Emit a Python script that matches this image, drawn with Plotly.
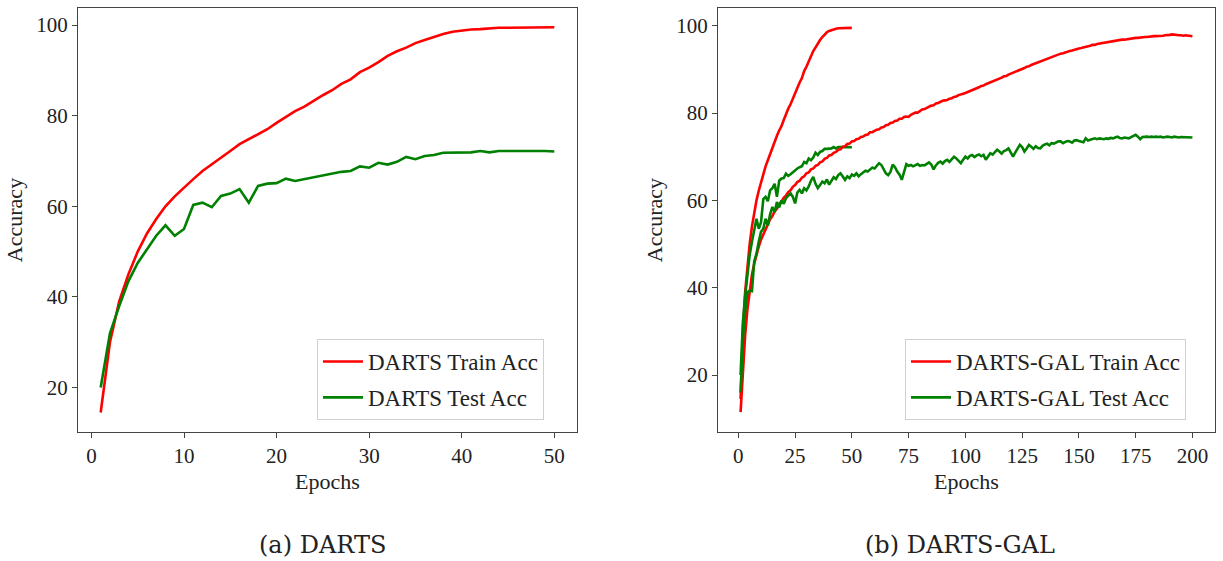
import plotly.graph_objects as go

# ---------------- data ----------------
epochs_darts = list(range(1, 51))
darts_train = [14.5, 30.0, 39.0, 45.0, 50.0, 54.0, 57.2, 60.0, 62.2, 64.2,
               66.0, 67.8, 69.2, 70.7, 72.2, 73.7, 74.8, 76.0, 77.0, 78.4,
               79.8, 81.0, 82.0, 83.3, 84.5, 85.6, 87.0, 88.0, 89.6, 90.6,
               91.8, 93.2, 94.2, 95.0, 96.0, 96.7, 97.4, 98.0, 98.5, 98.8,
               99.0, 99.1, 99.3, 99.4, 99.4, 99.4, 99.5, 99.5, 99.5, 99.5]
darts_test = [20.0, 32.0, 38.0, 43.5, 47.5, 50.5, 53.5, 55.8, 53.5, 55.0,
              60.3, 60.8, 59.8, 62.3, 62.8, 63.8, 60.8, 64.5, 65.0, 65.1,
              66.1, 65.6, 66.0, 66.5, 66.8, 67.3, 67.6, 67.8, 68.8, 68.5,
              69.6, 69.2, 69.8, 70.9, 70.4, 71.1, 71.3, 71.8, 71.8, 71.8,
              71.9, 72.2, 71.9, 72.2, 72.2, 72.2, 72.3, 72.2, 72.2, 72.1]

epochs_gal = list(range(1, 201))
gal_train = [11.5, 21.0, 29.0, 35.0, 39.5, 43.0, 45.5, 47.6, 49.4, 51.0,
             52.2, 53.6, 54.5, 55.7, 56.4, 57.5, 58.1, 59.1, 59.7, 60.6,
             61.1, 61.9, 62.3, 63.1, 63.5, 64.2, 64.5, 65.2, 65.5, 66.2,
             66.4, 67.1, 67.3, 67.9, 68.1, 68.7, 68.9, 69.5, 69.7, 70.3,
             70.4, 70.9, 71.1, 71.6, 71.7, 72.3, 72.4, 72.9, 73.0, 73.5,
             73.6, 74.0, 74.1, 74.5, 74.6, 75.0, 75.1, 75.6, 75.6, 76.0,
             76.2, 76.3, 76.7, 76.8, 77.2, 77.3, 77.7, 77.8, 78.2, 78.3,
             78.7, 78.7, 79.1, 79.2, 79.1, 79.6, 79.8, 80.1, 80.1, 80.5,
             80.8, 80.9, 81.2, 81.4, 81.7, 81.8, 82.2, 82.3, 82.6, 82.8,
             82.9, 83.0, 83.3, 83.4, 83.7, 83.8, 84.1, 84.2, 84.4, 84.6,
             84.8, 85.1, 85.2, 85.5, 85.7, 85.9, 86.2, 86.3, 86.6, 86.8,
             87.0, 87.3, 87.4, 87.7, 87.9, 88.1, 88.4, 88.5, 88.8, 89.0,
             89.2, 89.5, 89.6, 89.9, 90.1, 90.3, 90.6, 90.7, 91.0, 91.2,
             91.4, 91.6, 91.8, 92.1, 92.2, 92.5, 92.6, 92.9, 93.0, 93.2,
             93.4, 93.6, 93.7, 93.9, 94.0, 94.2, 94.3, 94.5, 94.6, 94.8,
             94.9, 95.0, 95.2, 95.3, 95.4, 95.6, 95.6, 95.8, 95.9, 96.0,
             96.1, 96.2, 96.3, 96.4, 96.5, 96.5, 96.6, 96.7, 96.8, 96.8,
             96.9, 97.0, 97.0, 97.1, 97.2, 97.2, 97.3, 97.3, 97.4, 97.4,
             97.5, 97.5, 97.6, 97.6, 97.6, 97.7, 97.7, 97.8, 97.8, 97.9,
             98.0, 97.9, 97.9, 97.8, 97.8, 97.7, 97.8, 97.7, 97.6, 97.6]
gal_test = [16.0, 28.0, 34.5, 39.0, 39.3, 39.2, 46.0, 47.8, 50.5, 52.8,
            53.5, 55.8, 54.2, 56.8, 58.5, 57.3, 59.6, 58.4, 60.0, 59.2,
            60.5, 61.0, 61.6, 60.8, 59.3, 61.8, 62.4, 61.6, 62.8, 62.3,
            63.2, 64.5, 65.4, 63.8, 62.8, 63.5, 64.3, 63.9, 64.8, 63.6,
            64.6, 65.3, 64.9, 65.8, 66.2, 65.4, 64.7, 65.5, 65.1, 65.9,
            65.6, 66.2, 65.5, 66.0, 66.4, 66.8, 66.6, 67.1, 67.5, 67.3,
            67.9, 68.5, 68.1, 67.0, 66.2, 65.8, 66.5, 68.2, 67.6, 66.6,
            65.9, 64.7, 66.8, 68.3, 67.9, 68.1, 67.8, 68.0, 68.3, 67.9,
            68.1, 68.0, 68.4, 68.7, 68.2, 67.1, 68.0, 68.6, 68.9, 68.4,
            69.0, 69.3, 68.8, 69.5, 70.0, 69.6, 69.1, 68.5, 69.3, 70.0,
            69.6, 70.2, 70.4, 69.9, 70.3, 70.5, 70.1, 70.4, 69.3, 70.2,
            70.8, 70.5, 71.0, 71.6, 71.2, 70.7, 71.3, 71.5, 71.9, 71.1,
            70.0, 71.0, 72.0, 72.7, 72.2, 71.2, 71.9, 72.7, 72.3, 71.8,
            72.4, 72.0, 71.9, 72.5, 72.8, 73.0, 72.6, 73.1, 73.0, 73.2,
            73.5, 73.5, 73.1, 73.4, 73.6, 73.5, 73.2, 73.7, 73.8, 73.6,
            73.4, 73.3, 74.2, 73.7, 73.9, 74.1, 74.2, 74.0, 74.2, 74.1,
            74.0, 74.2, 74.1, 74.3, 74.2, 74.4, 74.6, 74.3, 74.2, 74.4,
            74.3, 74.2, 74.5, 74.7, 75.0, 74.6, 74.0, 74.5, 74.6, 74.6,
            74.5, 74.6, 74.5, 74.6, 74.5, 74.6, 74.4, 74.5, 74.6, 74.5,
            74.4, 74.6, 74.5, 74.4, 74.5, 74.5, 74.4, 74.5, 74.4, 74.4]

left_xticks = [0, 10, 20, 30, 40, 50]
right_xticks = [0, 25, 50, 75, 100, 125, 150, 175, 200]
yticks = [20, 40, 60, 80, 100]
captions = ["(a) DARTS", "(b) DARTS-GAL"]

# ---------------- style ----------------
RED = "#ff0000"
GREEN = "#008000"
LW = 2.6
FONT = "Liberation Serif"
W, H = 1223, 561

fig = go.Figure()

# left panel
fig.add_trace(go.Scatter(x=epochs_darts, y=darts_train, mode="lines",
                         line=dict(color=RED, width=LW), name="DARTS Train Acc",
                         xaxis="x", yaxis="y", legend="legend", legendgroup="tr"))
fig.add_trace(go.Scatter(x=epochs_darts, y=darts_test, mode="lines",
                         line=dict(color=GREEN, width=LW), name="DARTS Test Acc",
                         xaxis="x", yaxis="y", legend="legend", legendgroup="te"))

# right panel
fig.add_trace(go.Scatter(x=epochs_darts, y=darts_train, mode="lines",
                         line=dict(color=RED, width=LW), showlegend=False,
                         xaxis="x2", yaxis="y2"))
fig.add_trace(go.Scatter(x=epochs_darts, y=darts_test, mode="lines",
                         line=dict(color=GREEN, width=LW), showlegend=False,
                         xaxis="x2", yaxis="y2"))
fig.add_trace(go.Scatter(x=epochs_gal, y=gal_train, mode="lines",
                         line=dict(color=RED, width=LW), name="DARTS-GAL Train Acc",
                         xaxis="x2", yaxis="y2", legend="legend2", legendgroup="tr2"))
fig.add_trace(go.Scatter(x=epochs_gal, y=gal_test, mode="lines",
                         line=dict(color=GREEN, width=LW), name="DARTS-GAL Test Acc",
                         xaxis="x2", yaxis="y2", legend="legend2", legendgroup="te2"))

ydom = [1 - 432 / H, 1 - 8 / H]
axis_common = dict(showline=True, mirror=True, linecolor="#444", linewidth=1.3,
                   ticks="outside", ticklen=5, tickwidth=1.2, tickcolor="#444",
                   showgrid=False, zeroline=False,
                   tickfont=dict(family=FONT, size=21, color="#222"))
title_font = dict(family=FONT, size=22, color="#222")
legend_font = dict(family=FONT, size=23, color="#222")

fig.update_layout(
    width=W, height=H,
    margin=dict(l=0, r=0, t=0, b=0),
    paper_bgcolor="white", plot_bgcolor="white",
    font=dict(family=FONT, color="#222"),
    xaxis=dict(domain=[78 / W, 577 / W], range=[-1.45, 52.45], anchor="y",
               tickvals=left_xticks,
               title=dict(text="Epochs", font=title_font, standoff=6),
               **axis_common),
    yaxis=dict(domain=ydom, range=[10.2, 103.75], anchor="x",
               tickvals=yticks,
               title=dict(text="Accuracy", font=title_font, standoff=7),
               **axis_common),
    xaxis2=dict(domain=[718 / W, 1215 / W], range=[-8.95, 209.95], anchor="y2",
                tickvals=right_xticks,
                title=dict(text="Epochs", font=title_font, standoff=6),
                **axis_common),
    yaxis2=dict(domain=ydom, range=[6.96, 104.05], anchor="x2",
                tickvals=yticks,
                title=dict(text="Accuracy", font=title_font, standoff=7),
                **axis_common),
    legend=dict(x=317 / W, y=1 - 339 / H, xanchor="left", yanchor="top",
                bgcolor="white", bordercolor="#d0d0d0", borderwidth=1,
                font=legend_font, itemwidth=40,
                traceorder="grouped", tracegroupgap=3),
    legend2=dict(x=905 / W, y=1 - 339 / H, xanchor="left", yanchor="top",
                 bgcolor="white", bordercolor="#d0d0d0", borderwidth=1,
                 font=legend_font, itemwidth=40,
                 traceorder="grouped", tracegroupgap=3),
    annotations=[
        dict(text=captions[0], x=322 / W, y=1 - 545 / H, xref="paper", yref="paper",
             showarrow=False, xanchor="center", yanchor="middle",
             font=dict(family="DejaVu Serif", size=24, color="#222")),
        dict(text=captions[1], x=960 / W, y=1 - 545 / H, xref="paper", yref="paper",
             showarrow=False, xanchor="center", yanchor="middle",
             font=dict(family="DejaVu Serif", size=24, color="#222")),
    ],
)

fig.write_html("out.html")
